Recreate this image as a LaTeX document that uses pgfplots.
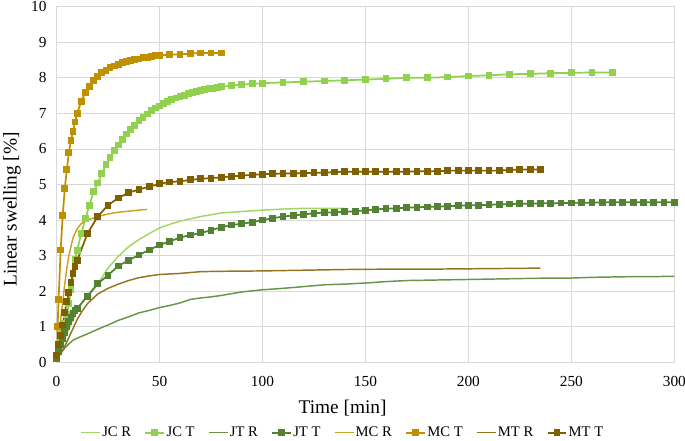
\documentclass[border=0pt]{standalone}
\usepackage{fontspec}
\setmainfont{Liberation Serif}
\usepackage{pgfplots}
\pgfplotsset{compat=1.18}
\definecolor{jc}{RGB}{146,208,80}
\definecolor{jcr}{RGB}{160,214,100}
\definecolor{jt}{RGB}{84,130,53}
\definecolor{jtr}{RGB}{104,150,72}
\definecolor{mc}{RGB}{191,144,0}
\definecolor{mcr}{RGB}{205,160,40}
\definecolor{mt}{RGB}{127,96,0}
\definecolor{mtr}{RGB}{150,115,30}
\definecolor{gridc}{RGB}{217,217,217}
\begin{document}
\begin{tikzpicture}
\begin{axis}[name=ax,
  scale only axis, width=463.35pt, height=266.75pt,
  xmin=0, xmax=300, ymin=0, ymax=10,
  xtick={0,50,...,300}, ytick={0,1,...,10},
  grid=major, major grid style={gridc, line width=0.6pt},
  axis line style={gridc, line width=0.8pt},
  tick style={draw=none},
  /pgf/number format/assume math mode=true,
  ticklabel style={font=\fontsize{11.5}{13}\selectfont},
  yticklabel style={xshift=-4pt},
  xticklabel style={yshift=-7pt},
  xlabel={Time [min]}, ylabel={Linear swelling [\%]},
  label style={font=\fontsize{14.5}{17}\selectfont},
  xlabel style={at={(axis description cs:0.463,-0.128)}, anchor=center},
  ylabel style={at={(axis description cs:-0.072,0.43)}, anchor=center},
  legend columns=8,
  legend image code/.code={\draw[mark repeat=2,mark phase=2,#1] plot coordinates {(0cm,0cm) (0.25cm,0cm) (0.5cm,0cm)};},
  legend style={draw=none, fill=none, at={(axis description cs:0.463,-0.198)}, anchor=center,
    font=\fontsize{11}{13}\selectfont, nodes={inner xsep=1pt},
    /tikz/every even column/.append style={column sep=9pt}},
  legend cell align=left,
  every axis plot/.append style={mark size=1.9pt},
]
% JC R
\addplot[jcr, line width=1.1pt, no marks] coordinates {(0,0.1)(2,0.35)(4,0.65)(6,0.95)(8,1.2)(10,1.45)(12,1.65)(15,1.9)(20,2.2)(25,2.65)(30,2.98)(35,3.25)(40,3.45)(45,3.62)(50,3.78)(55,3.88)(60,3.97)(70,4.1)(80,4.2)(90,4.24)(100,4.28)(110,4.31)(120,4.33)(130,4.33)(140,4.33)};
\addlegendentry{JC R}
% JC T
\addplot[jc, line width=1.3pt, mark=square*] coordinates {(0,0.1)(1,0.35)(2,0.6)(3,0.85)(4,1.1)(5,1.35)(6,1.65)(7,2.05)(8,2.5)(9,2.9)(10,3.15)(12,3.62)(14,4.04)(16,4.42)(18,4.8)(20,5.04)(22,5.3)(24,5.56)(26,5.77)(28,5.95)(30,6.11)(32,6.27)(34,6.42)(36,6.55)(38,6.67)(40,6.79)(42,6.89)(44,6.98)(46,7.07)(48,7.15)(50,7.21)(52,7.28)(54,7.33)(56,7.38)(58,7.43)(60,7.47)(62,7.51)(64,7.55)(66,7.58)(68,7.61)(70,7.64)(72,7.67)(74,7.69)(76,7.71)(78,7.73)(80,7.75)(85,7.78)(90,7.81)(95,7.83)(100,7.85)(110,7.87)(120,7.89)(130,7.91)(140,7.93)(150,7.95)(160,7.97)(170,8.0)(180,8.0)(190,8.02)(200,8.05)(210,8.07)(220,8.1)(230,8.11)(240,8.13)(250,8.14)(260,8.15)(270,8.15)};
\addlegendentry{JC T}
% JT R
\addplot[jtr, line width=1.1pt, no marks] coordinates {(0,0.05)(2,0.25)(4,0.4)(6,0.52)(8,0.62)(10,0.68)(15,0.8)(20,0.93)(25,1.05)(30,1.18)(35,1.28)(40,1.39)(45,1.46)(50,1.54)(55,1.6)(60,1.67)(65,1.77)(70,1.81)(75,1.84)(80,1.88)(85,1.93)(90,1.98)(95,2.01)(100,2.04)(110,2.08)(120,2.13)(130,2.18)(140,2.2)(150,2.23)(160,2.27)(170,2.3)(180,2.31)(190,2.32)(200,2.33)(210,2.34)(220,2.35)(230,2.36)(240,2.37)(250,2.37)(260,2.39)(270,2.4)(280,2.41)(290,2.41)(300,2.42)};
\addlegendentry{JT R}
% JT T
\addplot[jt, line width=1.3pt, mark=square*] coordinates {(0,0.1)(1,0.3)(2,0.5)(3,0.66)(4,0.83)(5,1.0)(6,1.15)(7,1.27)(8,1.38)(9,1.45)(10,1.52)(15,1.85)(20,2.21)(25,2.45)(30,2.71)(35,2.87)(40,3.02)(45,3.16)(50,3.3)(55,3.4)(60,3.51)(65,3.58)(70,3.64)(75,3.71)(80,3.8)(85,3.86)(90,3.9)(95,3.94)(100,4.0)(105,4.05)(110,4.1)(115,4.13)(120,4.16)(125,4.19)(130,4.21)(135,4.22)(140,4.23)(145,4.25)(150,4.27)(155,4.3)(160,4.32)(165,4.33)(170,4.35)(175,4.36)(180,4.37)(185,4.38)(190,4.39)(195,4.4)(200,4.42)(205,4.42)(210,4.43)(215,4.44)(220,4.45)(225,4.46)(230,4.46)(235,4.47)(240,4.47)(245,4.48)(250,4.48)(255,4.49)(260,4.49)(265,4.5)(270,4.5)(275,4.5)(280,4.5)(285,4.5)(290,4.5)(295,4.5)(300,4.5)};
\addlegendentry{JT T}
% MC R
\addplot[mcr, line width=1.1pt, no marks] coordinates {(0,0.2)(1,0.7)(2,1.2)(3,1.7)(4,2.2)(5,2.65)(6,3.0)(7,3.25)(8,3.5)(10,3.75)(12,3.9)(15,4.0)(20,4.1)(25,4.17)(30,4.22)(35,4.25)(40,4.28)(44,4.3)};
\addlegendentry{MC R}
% MC T
\addplot[mc, line width=1.3pt, mark=square*] coordinates {(0,0.2)(0.5,1.0)(1,1.77)(2,3.16)(3,4.12)(4,4.88)(5,5.42)(6,5.9)(7,6.24)(8,6.5)(9,6.76)(10,7.0)(12,7.34)(14,7.58)(16,7.76)(18,7.92)(20,8.03)(22,8.15)(24,8.21)(26,8.28)(28,8.33)(30,8.38)(32,8.42)(34,8.45)(36,8.48)(38,8.51)(40,8.53)(42,8.56)(44,8.58)(46,8.6)(48,8.62)(50,8.63)(55,8.65)(60,8.66)(65,8.68)(70,8.7)(75,8.7)(80,8.7)};
\addlegendentry{MC T}
% MT R
\addplot[mtr, line width=1.1pt, no marks] coordinates {(0,0.1)(2,0.25)(4,0.45)(6,0.7)(8,0.95)(10,1.2)(12,1.4)(15,1.65)(20,1.92)(25,2.08)(30,2.2)(35,2.3)(40,2.38)(45,2.43)(50,2.47)(60,2.5)(70,2.55)(80,2.56)(100,2.57)(120,2.59)(140,2.61)(160,2.62)(180,2.62)(200,2.63)(220,2.64)(235,2.65)};
\addlegendentry{MT R}
% MT T
\addplot[mt, line width=1.3pt, mark=square*] coordinates {(0,0.2)(1,0.5)(2,0.75)(3,1.05)(4,1.4)(5,1.7)(6,1.97)(7,2.25)(8,2.5)(9,2.7)(10,2.86)(15,3.62)(20,4.1)(25,4.42)(30,4.62)(35,4.77)(40,4.86)(45,4.94)(50,5.02)(55,5.07)(60,5.09)(65,5.13)(70,5.16)(75,5.18)(80,5.2)(85,5.23)(90,5.25)(95,5.27)(100,5.29)(105,5.3)(110,5.31)(115,5.31)(120,5.32)(125,5.33)(130,5.33)(135,5.35)(140,5.36)(145,5.36)(150,5.36)(155,5.36)(160,5.36)(165,5.36)(170,5.36)(175,5.37)(180,5.37)(185,5.37)(190,5.39)(195,5.39)(200,5.39)(205,5.39)(210,5.39)(215,5.39)(220,5.41)(225,5.42)(230,5.42)(235,5.42)};
\addlegendentry{MT T}
\end{axis}
\pgfresetboundingbox
\path ([shift={(-42.4pt,-58.3pt)}]ax.south west) rectangle ([shift={(8pt,5pt)}]ax.north east);
\end{tikzpicture}
\end{document}
